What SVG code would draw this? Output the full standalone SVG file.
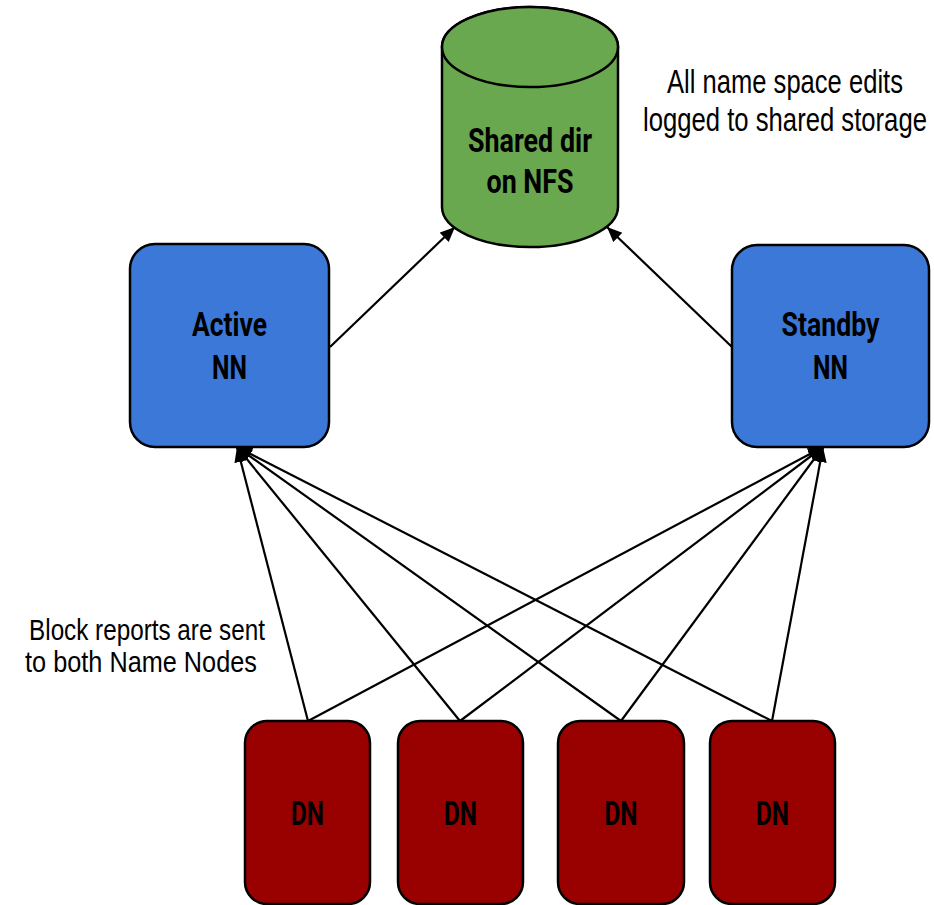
<svg xmlns="http://www.w3.org/2000/svg" width="934" height="905" viewBox="0 0 934 905">
  <defs>
    <style>
      .node { stroke: #000; stroke-width: 2.5; }
      .nn { fill: #3c78d8; }
      .dn { fill: #990000; }
      .nfs { fill: #6aa84f; }
      .lbl { font-family: Roboto, "Liberation Sans", sans-serif; font-weight: bold; font-size: 34px; fill: #000; text-anchor: middle; }
      .note { font-family: "Liberation Sans", Arial, sans-serif; fill: #000; text-anchor: middle; }
      .edge { stroke: #000; stroke-width: 2.2; fill: none; marker-end: url(#arrow); }
    </style>
    <marker id="arrow" markerUnits="userSpaceOnUse" markerWidth="16" markerHeight="14" refX="15" refY="6.5" orient="auto">
      <path d="M0,0 L15,6.5 L0,13 z" fill="#000"/>
    </marker>
  </defs>
  <rect width="934" height="905" fill="#fff"/>

  <g id="connectors">
    <line class="edge" x1="330" y1="347" x2="455" y2="227"/>
    <line class="edge" x1="732" y1="347" x2="607" y2="227"/>
    <line class="edge" x1="308" y1="721" x2="237" y2="447"/>
    <line class="edge" x1="460" y1="721" x2="237" y2="447"/>
    <line class="edge" x1="621" y1="721" x2="237" y2="447"/>
    <line class="edge" x1="772" y1="721" x2="237" y2="447"/>
    <line class="edge" x1="308" y1="721" x2="823" y2="447"/>
    <line class="edge" x1="460" y1="721" x2="823" y2="447"/>
    <line class="edge" x1="621" y1="721" x2="823" y2="447"/>
    <line class="edge" x1="772" y1="721" x2="823" y2="447"/>
  </g>

  <g id="shared-dir">
    <path class="node nfs" d="M442,47 V207 A88,40 0 0 0 618,207 V47 A88,40 0 0 0 442,47 Z"/>
    <ellipse class="node nfs" cx="530" cy="47" rx="88" ry="40"/>
    <text class="lbl" x="530" y="152" textLength="124" lengthAdjust="spacingAndGlyphs">Shared dir</text>
    <text class="lbl" x="530" y="193" textLength="87" lengthAdjust="spacingAndGlyphs">on NFS</text>
  </g>

  <g id="active-nn">
    <rect class="node nn" x="130" y="244" width="199" height="203" rx="25"/>
    <text class="lbl" x="229.5" y="336" textLength="75" lengthAdjust="spacingAndGlyphs">Active</text>
    <text class="lbl" x="229.5" y="379" textLength="35" lengthAdjust="spacingAndGlyphs">NN</text>
  </g>

  <g id="standby-nn">
    <rect class="node nn" x="732" y="245" width="197" height="202" rx="25"/>
    <text class="lbl" x="830.5" y="336" textLength="98" lengthAdjust="spacingAndGlyphs">Standby</text>
    <text class="lbl" x="830.5" y="379" textLength="35" lengthAdjust="spacingAndGlyphs">NN</text>
  </g>

  <g id="dn1">
    <rect class="node dn" x="245" y="721" width="125" height="183" rx="22"/>
    <text class="lbl" x="307.5" y="825" textLength="33" lengthAdjust="spacingAndGlyphs">DN</text>
  </g>
  <g id="dn2">
    <rect class="node dn" x="398" y="721" width="125" height="183" rx="22"/>
    <text class="lbl" x="460.5" y="825" textLength="33" lengthAdjust="spacingAndGlyphs">DN</text>
  </g>
  <g id="dn3">
    <rect class="node dn" x="558" y="721" width="126" height="183" rx="22"/>
    <text class="lbl" x="621" y="825" textLength="33" lengthAdjust="spacingAndGlyphs">DN</text>
  </g>
  <g id="dn4">
    <rect class="node dn" x="710" y="721" width="125" height="183" rx="22"/>
    <text class="lbl" x="772.5" y="825" textLength="33" lengthAdjust="spacingAndGlyphs">DN</text>
  </g>

  <g id="note-edits">
    <text class="note" transform="translate(785,93) scale(0.752,1)" x="0" y="0" style="font-size:34px">All name space edits</text>
    <text class="note" transform="translate(785,131) scale(0.755,1)" x="0" y="0" style="font-size:34px">logged to shared storage</text>
  </g>

  <g id="note-block">
    <text class="note" transform="translate(147,640) scale(0.809,1)" x="0" y="0" style="font-size:30px">Block reports are sent</text>
    <text class="note" transform="translate(141,672) scale(0.843,1)" x="0" y="0" style="font-size:30px">to both Name Nodes</text>
  </g>
</svg>
